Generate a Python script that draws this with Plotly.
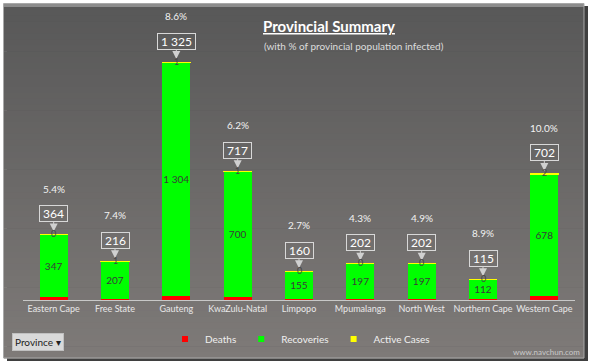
import plotly.graph_objects as go

# ---------------- data ----------------
provinces = ["Eastern Cape", "Free State", "Gauteng", "KwaZulu-Natal", "Limpopo",
             "Mpumalanga", "North West", "Northern Cape", "Western Cape"]
deaths = [17, 8, 20, 16, 5, 5, 5, 3, 22]
recoveries = [347, 207, 1304, 700, 155, 197, 197, 112, 678]
active = [0, 1, 1, 1, 0, 0, 0, 0, 2]
totals = [364, 216, 1325, 717, 160, 202, 202, 115, 702]
pct_infected = [5.4, 7.4, 8.6, 6.2, 2.7, 4.3, 4.9, 8.9, 10.0]

# ---------------- geometry ----------------
W, H = 592, 364
L, R, T, B = 23, 17, 10, 64
PW, PH = W - L - R, H - T - B


def px_x(px):
    return (px - L) / PW


def px_y(py):
    return (H - B - py) / PH


def fmt(v):
    return f"{v:,}".replace(",", " ")


FONT = "Lato, Liberation Sans, Arial, sans-serif"
RED, GREEN, YELLOW = "#ff0000", "#00ff00", "#ffff00"

fig = go.Figure()
fig.add_trace(go.Bar(x=provinces, y=deaths, name="Deaths", marker=dict(color=RED, line=dict(width=0)),
                     showlegend=False, hoverinfo="skip"))
fig.add_trace(go.Bar(x=provinces, y=recoveries, name="Recoveries",
                     marker=dict(color=GREEN, line=dict(width=0)),
                     text=[fmt(v) for v in recoveries], textposition="inside",
                     insidetextanchor="middle", textangle=0, constraintext="none",
                     textfont=dict(color="#3a3a3a", size=10, family=FONT),
                     showlegend=False, hoverinfo="skip"))
fig.add_trace(go.Bar(x=provinces, y=active, name="Active Cases",
                     marker=dict(color=YELLOW, line=dict(width=1, color=YELLOW)),
                     showlegend=False, hoverinfo="skip"))

# legend-only entries with small square markers
for nm, col in [("Deaths", RED), ("Recoveries", GREEN), ("Active Cases", YELLOW)]:
    fig.add_trace(go.Scatter(x=[None], y=[None], mode="markers", name=nm,
                             marker=dict(symbol="square", size=6, color=col)))

ann = []
for p, t, a, pc in zip(provinces, totals, active, pct_infected):
    ann.append(dict(x=p, y=t, xref="x", yref="y", text="&nbsp;" + fmt(t) + "&nbsp;",
                    showarrow=True, ax=0, ay=-21, arrowhead=2, arrowsize=1.6, arrowwidth=1,
                    arrowcolor="#d0d0d0", standoff=3,
                    bordercolor="#d8d8d8", borderwidth=1, borderpad=0,
                    font=dict(color="#ffffff", size=12, family=FONT)))
    ann.append(dict(x=p, y=t, xref="x", yref="y", text=f"{pc:.1f}%", showarrow=False,
                    yshift=46, font=dict(color="#f2f2f2", size=10, family=FONT)))
    ann.append(dict(x=p, y=t, xref="x", yref="y", text=str(a), showarrow=False,
                    yshift=1, font=dict(color="#444444", size=9, family=FONT)))

# title & subtitle
ann.append(dict(x=px_x(261), y=px_y(26), xref="paper", yref="paper", xanchor="left",
                yanchor="middle", showarrow=False, text="<b><u>Provincial Summary</u></b>",
                font=dict(color="#ffffff", size=15, family=FONT)))
ann.append(dict(x=px_x(262), y=px_y(46), xref="paper", yref="paper", xanchor="left",
                yanchor="middle", showarrow=False,
                text="(with % of provincial population infected)",
                font=dict(color="#dcdcdc", size=10, family=FONT)))
# filter button
ann.append(dict(x=px_x(12), y=px_y(342), xref="paper", yref="paper", xanchor="left",
                yanchor="middle", showarrow=False, text="Province ▾",
                bgcolor="#d9d9d9", bordercolor="#c0c0c0", borderwidth=1, borderpad=2,
                font=dict(color="#222222", size=10, family=FONT)))
# watermark
ann.append(dict(x=px_x(582), y=px_y(352), xref="paper", yref="paper", xanchor="right",
                yanchor="middle", showarrow=False, text="www.navchun.com",
                font=dict(color="#c9c9c9", size=8, family=FONT)))

# background: frame shadow, gradient panel, bevel
shapes = []
shapes.append(dict(type="rect", xref="paper", yref="paper", layer="below",
                   x0=px_x(7), x1=px_x(588), y0=px_y(6), y1=px_y(361),
                   fillcolor="#3f3f3f", line=dict(width=0)))
top_c, bot_c = (88, 88, 88), (126, 122, 120)
N = 60
y_top, y_bot = 4, 358
for i in range(N):
    f = i / (N - 1)
    c = tuple(int(round(top_c[k] + (bot_c[k] - top_c[k]) * f)) for k in range(3))
    ya = y_top + (y_bot - y_top) * i / N
    yb = y_top + (y_bot - y_top) * (i + 1) / N + 0.6
    shapes.append(dict(type="rect", xref="paper", yref="paper", layer="below",
                       x0=px_x(4), x1=px_x(584), y0=px_y(ya), y1=px_y(yb),
                       fillcolor="rgb(%d,%d,%d)" % c, line=dict(width=0)))
shapes.append(dict(type="rect", xref="paper", yref="paper", layer="below",
                   x0=px_x(4), x1=px_x(584), y0=px_y(3), y1=px_y(7),
                   fillcolor="#8c8c8c", line=dict(width=0)))
shapes.append(dict(type="rect", xref="paper", yref="paper", layer="below",
                   x0=px_x(3.5), x1=px_x(584), y0=px_y(3.5), y1=px_y(358),
                   fillcolor="rgba(0,0,0,0)", line=dict(width=1, color="#a8a8a8")))

fig.update_layout(
    width=W, height=H, margin=dict(l=L, r=R, t=T, b=B, pad=0),
    paper_bgcolor="#ffffff", plot_bgcolor="rgba(0,0,0,0)",
    barmode="stack", bargap=0.54,
    font=dict(family=FONT, color="#eeeeee", size=9),
    xaxis=dict(showline=True, linecolor="#c8c8c8", linewidth=1, ticks="",
               showgrid=False, zeroline=False, fixedrange=True, automargin=False,
               tickfont=dict(color="#e8e8e8", size=9, family=FONT)),
    yaxis=dict(visible=False, range=[0, 1325 * PH / 238], fixedrange=True, automargin=False),
    showlegend=True,
    legend=dict(orientation="h", x=px_x(165), xanchor="left", y=px_y(339),
                yanchor="middle", bgcolor="rgba(0,0,0,0)", traceorder="normal",
                font=dict(color="#f0f0f0", size=10, family=FONT),
                itemwidth=30, tracegroupgap=0),
    annotations=ann, shapes=shapes,
)

fig.write_html("out.html", config={"displayModeBar": False},
               post_script="document.body.style.margin='0';document.body.style.padding='0';")
